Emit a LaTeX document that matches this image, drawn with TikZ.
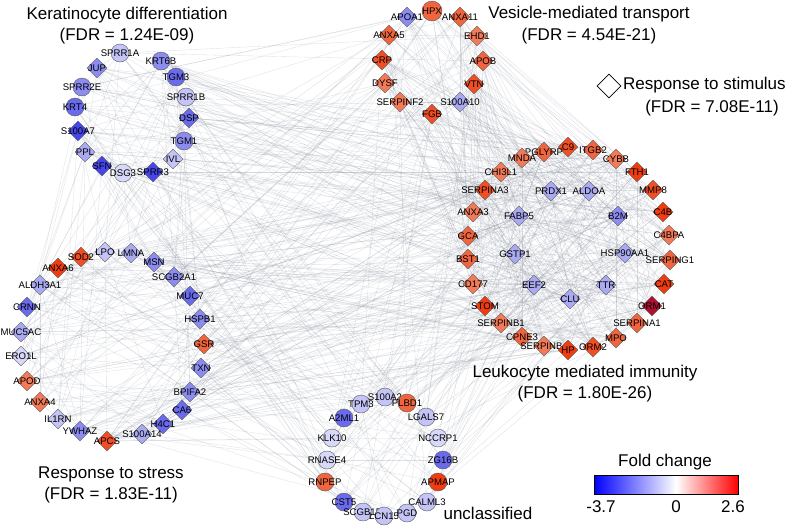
\documentclass[tikz,border=0pt]{standalone}
\usepackage{fontspec}
\setmainfont{Liberation Sans}
\usetikzlibrary{shapes.geometric,backgrounds}
\definecolor{b1}{HTML}{4646EC}
\definecolor{b2}{HTML}{6A6AEC}
\definecolor{b3}{HTML}{8C8CF0}
\definecolor{b4}{HTML}{AAAAF3}
\definecolor{b5}{HTML}{C4C4F6}
\definecolor{b6}{HTML}{D8D8F9}
\definecolor{r1}{HTML}{F03C10}
\definecolor{r2}{HTML}{F04E24}
\definecolor{r3}{HTML}{F0643E}
\definecolor{r4}{HTML}{F27A58}
\definecolor{rd}{HTML}{B01030}
\definecolor{edgecol}{HTML}{8A90A0}
\tikzset{
 dia/.style={diamond, draw=black!65, line width=0.4pt, minimum size=20pt, inner sep=0pt},
 cir/.style={circle, draw=black!65, line width=0.4pt, minimum size=18pt, inner sep=0pt},
 lbl/.style={font=\fontsize{9.6}{10}\selectfont, text=black, inner sep=0pt},
 ttl/.style={font=\fontsize{17}{20}\selectfont, inner sep=0pt, text height=12.2pt, text depth=3.6pt},
 lnk/.style={draw=edgecol, line width=0.35pt, opacity=0.27},
}
\newcommand\gd[5]{\node[dia,fill=#4,label={[lbl]center:#5}] (#1) at (#2,#3) {};}
\newcommand\gc[5]{\node[cir,fill=#4,label={[lbl]center:#5}] (#1) at (#2,#3) {};}
\newcommand\linkset[4]{%
 \foreach \na [count=\ii] in #1 {%
  \foreach \nb [count=\jj] in #2 {%
   \pgfmathtruncatemacro\hv{mod(mod(\ii*\ii,97)*7+mod(\jj*\jj,97)*11+mod(\ii*\jj,97)*13+#4,97)}%
   \ifnum\hv<#3\relax\draw[lnk] (\na) -- (\nb);\fi
 }}}
\newcommand\linkself[3]{%
 \foreach \na [count=\ii] in #1 {%
  \foreach \nb [count=\jj] in #1 {%
   \ifnum\ii<\jj\relax
    \pgfmathtruncatemacro\hv{mod(mod(\ii*\ii,97)*5+mod(\jj*\jj,97)*3+mod(\ii*\jj,97)*17+#3,97)}%
    \ifnum\hv<#2\relax\draw[lnk] (\na) -- (\nb);\fi
   \fi
 }}}
\def\Klist{SPRR1A,KRT6B,JUP,TGM3,SPRR2E,SPRR1B,KRT4,DSP,S100A7,TGM1,PPL,IVL,SFN,DSG3,SPRR3}
\def\Vlist{APOA1,HPX,ANXA11,ANXA5,EHD1,CRP,APOB,DYSF,VTN,SERPINF2,S100A10,FGB}
\def\Llist{C9,PGLYRP,ITGB2,MNDA,CYBB,CHI3L1,FTH1,SERPINA3,PRDX1,ALDOA,MMP8,ANXA3,FABP5,B2M,C4B,GCA,C4BPA,GSTP1,HSP90AA1,BST1,SERPING1,CD177,EEF2,TTR,CAT,CLU,STOM,ORM1,SERPINB1,SERPINA1,CPNE3,MPO,SERPINBx,HP,ORM2}
\def\Slist{SOD2,LPO,LMNA,ANXA6,MSN,ALDH3A1,SCGB2A1,CRNN,MUC7,MUC5AC,HSPB1,GSR,ERO1L,TXN,APOD,BPIFA2,ANXA4,CA6,IL1RN,H4C1,YWHAZ,S100A14,APCS}
\def\Ulist{S100A2,TPM3,PLBD1,A2ML1,LGALS7,KLK10,NCCRP1,RNASE4,ZG16B,RNPEP,APMAP,CST5,CALML3,SCGB1D,LCN15,PGD}
\begin{document}
\begin{tikzpicture}[x=1pt,y=-1pt]
\useasboundingbox (0,0) rectangle (787,528);
% ---- Keratinocyte differentiation
\gc{SPRR1A}{120}{53}{b5}{SPRR1A}
\gc{KRT6B}{161}{61}{b3}{KRT6B}
\gd{JUP}{97}{68}{b3}{JUP}
\gc{TGM3}{176}{77}{b2}{TGM3}
\gc{SPRR2E}{82}{87}{b3}{SPRR2E}
\gc{SPRR1B}{186}{97}{b5}{SPRR1B}
\gc{KRT4}{75}{107}{b2}{KRT4}
\gd{DSP}{189}{118}{b2}{DSP}
\gd{S100A7}{78}{131}{b1}{S100A7}
\gc{TGM1}{184}{141}{b3}{TGM1}
\gd{PPL}{85}{152}{b4}{PPL}
\gd{IVL}{173}{159}{b5}{IVL}
\gd{SFN}{102}{166}{b1}{SFN}
\gc{DSG3}{123}{173}{b6}{DSG3}
\gd{SPRR3}{153}{172}{b1}{SPRR3}
% ---- Vesicle-mediated transport
\gd{APOA1}{407}{17}{b3}{APOA1}
\node[cir,minimum size=20pt,fill=r3,label={[lbl]center:HPX}] (HPX) at (432,11) {};
\gd{ANXA11}{460}{17}{r3}{ANXA11}
\gd{ANXA5}{389}{35}{r3}{ANXA5}
\gd{EHD1}{477}{36}{r4}{EHD1}
\gd{CRP}{382}{60}{r2}{CRP}
\gd{APOB}{483}{61}{r3}{APOB}
\gd{DYSF}{385}{83}{r4}{DYSF}
\gd{VTN}{474}{84}{r2}{VTN}
\gd{SERPINF2}{400}{102}{r4}{SERPINF2}
\gd{S100A10}{460}{102}{b4}{S100A10}
\gd{FGB}{432}{114}{r2}{FGB}
% ---- Leukocyte mediated immunity
\gd{C9}{568}{147}{r2}{C9}
\gd{PGLYRP}{544}{152}{r3}{PGLYRP}
\gd{ITGB2}{593}{150}{r3}{ITGB2}
\gd{MNDA}{522}{158}{r4}{MNDA}
\gd{CYBB}{616}{159}{r4}{CYBB}
\gd{CHI3L1}{501}{172}{r4}{CHI3L1}
\gd{FTH1}{637}{172}{r1}{FTH1}
\gd{SERPINA3}{485}{190}{r2}{SERPINA3}
\gd{PRDX1}{551}{191}{b4}{PRDX1}
\gd{ALDOA}{589}{191}{b4}{ALDOA}
\gd{MMP8}{653}{190}{r2}{MMP8}
\gd{ANXA3}{473}{212}{r4}{ANXA3}
\gd{FABP5}{519}{216}{b4}{FABP5}
\gd{B2M}{618}{216}{b3}{B2M}
\gd{C4B}{663}{212}{r1}{C4B}
\gd{GCA}{468}{236}{r3}{GCA}
\gd{C4BPA}{669}{235}{r4}{C4BPA}
\gd{GSTP1}{515}{254}{b4}{GSTP1}
\gd{HSP90AA1}{625}{253}{b4}{HSP90AA1}
\gd{BST1}{468}{259}{r3}{BST1}
\gd{SERPING1}{670}{260}{r3}{SERPING1}
\gd{CD177}{473}{284}{r4}{CD177}
\gd{EEF2}{534}{285}{b4}{EEF2}
\gd{TTR}{606}{285}{b4}{TTR}
\gd{CAT}{664}{284}{r1}{CAT}
\gd{CLU}{570}{299}{b4}{CLU}
\gd{STOM}{485}{306}{r1}{STOM}
\gd{ORM1}{652}{306}{rd}{ORM1}
\gd{SERPINB1}{501}{323}{r4}{SERPINB1}
\gd{SERPINA1}{637}{323}{r3}{SERPINA1}
\gd{CPNE3}{522}{337}{r3}{CPNE3}
\gd{MPO}{616}{338}{r3}{MPO}
\gd{SERPINBx}{544}{346}{r4}{SERPINB4}
\gd{HP}{568}{350}{r1}{HP}
\gd{ORM2}{593}{347}{r2}{ORM2}
% ---- Response to stress
\gd{SOD2}{81}{257}{r2}{SOD2}
\gd{LPO}{105}{252}{b5}{LPO}
\gd{LMNA}{131}{253}{b4}{LMNA}
\gd{ANXA6}{58}{268}{r1}{ANXA6}
\gd{MSN}{154}{262}{b3}{MSN}
\gd{ALDH3A1}{40}{285}{b4}{ALDH3A1}
\gd{SCGB2A1}{174}{277}{b3}{SCGB2A1}
\gd{CRNN}{27}{307}{b2}{CRNN}
\gd{MUC7}{190}{296}{b2}{MUC7}
\gd{MUC5AC}{21}{332}{b4}{MUC5AC}
\gd{HSPB1}{200}{319}{b3}{HSPB1}
\gd{GSR}{204}{344}{r3}{GSR}
\gd{ERO1L}{21}{356}{b6}{ERO1L}
\gd{TXN}{201}{368}{b3}{TXN}
\gd{APOD}{27}{381}{r4}{APOD}
\gd{BPIFA2}{190}{392}{b3}{BPIFA2}
\gd{ANXA4}{40}{402}{r4}{ANXA4}
\gd{CA6}{182}{410}{b2}{CA6}
\gd{IL1RN}{58}{419}{b5}{IL1RN}
\gd{H4C1}{163}{424}{b2}{H4C1}
\gd{YWHAZ}{80}{431}{b3}{YWHAZ}
\gd{S100A14}{142}{434}{b4}{S100A14}
\gd{APCS}{107}{441}{r2}{APCS}
% ---- unclassified
\gc{S100A2}{385}{397}{b5}{S100A2}
\gc{TPM3}{361}{404}{b5}{TPM3}
\gc{PLBD1}{407}{403}{r3}{PLBD1}
\gc{A2ML1}{344}{418}{b2}{A2ML1}
\gc{LGALS7}{426}{417}{b5}{LGALS7}
\gc{KLK10}{332}{438}{b6}{KLK10}
\gc{NCCRP1}{438}{438}{b6}{NCCRP1}
\gc{RNASE4}{327}{460}{b6}{RNASE4}
\gc{ZG16B}{443}{460}{b2}{ZG16B}
\gc{RNPEP}{325}{482}{r3}{RNPEP}
\gc{APMAP}{438}{482}{r1}{APMAP}
\gc{CST5}{344}{502}{b2}{CST5}
\gc{CALML3}{427}{502}{b5}{CALML3}
\gc{SCGB1D}{363}{512}{b5}{SCGB1D}
\gc{LCN15}{384}{516}{b5}{LCN15}
\gc{PGD}{407}{513}{b5}{PGD}
% ---- connectors (behind the nodes)
\begin{pgfonlayer}{background}
\fill[white] (0,0) rectangle (787,528);
\linkself{\Llist}{34}{3}
\linkself{\Vlist}{30}{11}
\linkself{\Klist}{30}{23}
\linkself{\Slist}{12}{41}
\linkself{\Ulist}{10}{57}
\linkset{\Vlist}{\Llist}{24}{5}
\linkset{\Klist}{\Llist}{14}{19}
\linkset{\Klist}{\Slist}{12}{31}
\linkset{\Klist}{\Vlist}{10}{43}
\linkset{\Slist}{\Llist}{14}{61}
\linkset{\Slist}{\Vlist}{12}{71}
\linkset{\Ulist}{\Llist}{10}{79}
\linkset{\Ulist}{\Klist}{10}{83}
\linkset{\Ulist}{\Slist}{8}{89}
\linkset{\Ulist}{\Vlist}{6}{2}
\end{pgfonlayer}
% ---- titles
\node[ttl] (tK1) at (127,15) {Keratinocyte differentiation};
\node[ttl] (tK2) at (127,36) {(FDR = 1.24E-09)};
\node[ttl] (tV1) at (589,14) {Vesicle-mediated transport};
\node[ttl] (tV2) at (589,36) {(FDR = 4.54E-21)};
\node[dia,fill=white,draw=black,line width=0.6pt,minimum size=24pt] (stimkey) at (609,86) {};
\node[ttl,anchor=west] (tS1) at (623,85) {Response to stimulus};
\node[ttl] (tS2) at (712,108) {(FDR = 7.08E-11)};
\node[ttl] (tL1) at (585,373) {Leukocyte mediated immunity};
\node[ttl] (tL2) at (585,394) {(FDR = 1.80E-26)};
\node[ttl] (tR1) at (111,474) {Response to stress};
\node[ttl] (tR2) at (111,495) {(FDR = 1.83E-11)};
\node[ttl] (tU) at (488,515) {unclassified};
% ---- legend
\node[ttl] (fc) at (665,462) {Fold change};
\shade[left color=blue, right color=white] (594,475) rectangle (676,494);
\shade[left color=white, right color=red] (676,475) rectangle (738,494);
\draw[black, line width=0.6pt] (594,475) rectangle (738,494);
\node[ttl] (lmin) at (601,508) {-3.7};
\node[ttl] (lzero) at (676,508) {0};
\node[ttl] (lmax) at (733,508) {2.6};
\end{tikzpicture}
\end{document}
